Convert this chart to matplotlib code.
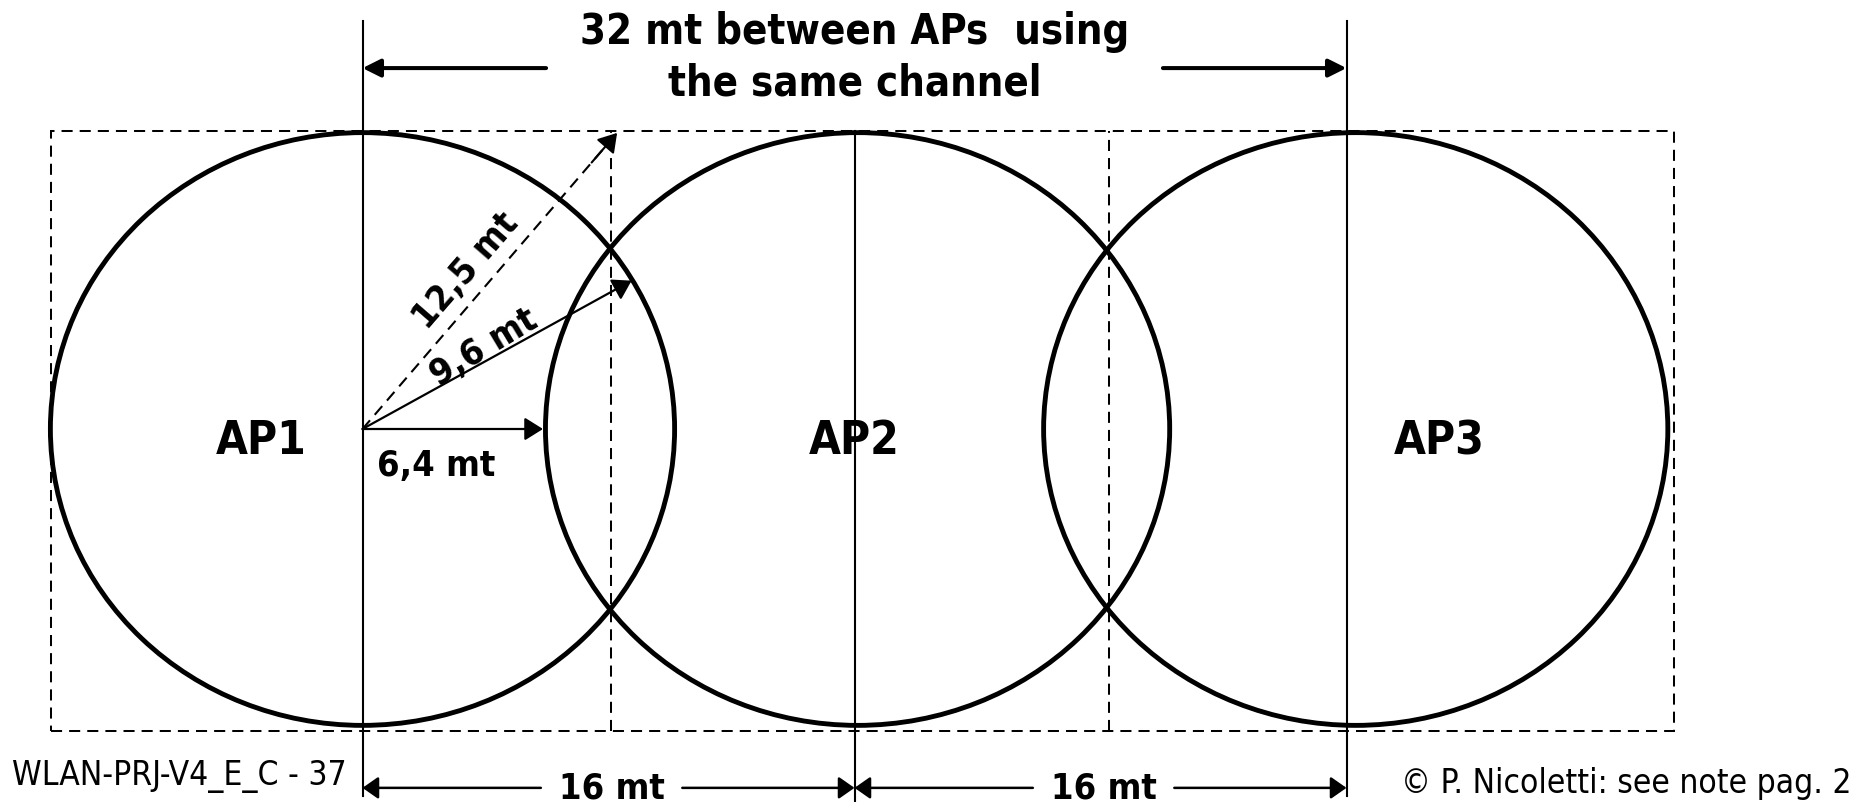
import matplotlib
matplotlib.use('Agg')
import matplotlib.pyplot as plt
from matplotlib.patches import Ellipse, Rectangle

# everything is in metres, AP1 at the origin
ap_names = ['AP1', 'AP2', 'AP3']
ap_x = [0.0, 16.0, 32.0]            # vertical reference lines
ap_label_x = [-3.3, 16.0, 35.0]
cell_x = [0.0, 16.1, 32.3]          # circle centres as drawn
cell_radius = 10.15
grid_x = [-10.13, 8.07, 24.28, 42.65]   # dashed cell boundaries
grid_y = [-10.34, 10.2]

radius_labels = ['6,4 mt', '9,6 mt', '12,5 mt']
radius_ends = [(5.87, 0.0), (8.75, 5.08), (8.28, 10.14)]
spacing_label = '16 mt'
reuse_label = ['32 mt between APs  using', 'the same channel']
footer_left = 'WLAN-PRJ-V4_E_C - 37'
footer_right = '© P. Nicoletti: see note pag. 2'

# %%
plt.rcParams['font.family'] = ['DejaVu Sans']
W, H = 1870, 803
x0_px, y0_px, sx, sy = 362.5, 430.0, 30.75, 29.2

fig = plt.figure(figsize=(W / 100, H / 100), dpi=100)
ax = fig.add_axes([0, 0, 1, 1])
ax.set_xlim(-x0_px / sx, (W - x0_px) / sx)
ax.set_ylim((y0_px - H) / sy, y0_px / sy)
ax.axis('off')

dash = (0, (5.5, 3.5))
bold = dict(fontweight='bold', fontstretch='condensed', color='black')


def arrow(start, end, lw, ms, hw=0.2, ls='-'):
    ax.annotate('', xy=end, xytext=start,
                arrowprops=dict(arrowstyle=f'-|>,head_length=0.4,head_width={hw}',
                                lw=lw, color='black', mutation_scale=ms,
                                shrinkA=0, shrinkB=0, linestyle=ls))


# dashed cell grid
ax.add_patch(Rectangle((grid_x[0], grid_y[0]), grid_x[-1] - grid_x[0], grid_y[1] - grid_y[0],
                       fill=False, lw=1.45, linestyle=dash, zorder=1))
for gx in grid_x[1:-1]:
    ax.plot([gx, gx], grid_y, color='black', lw=1.45, linestyle=dash, zorder=1)

# coverage circles
for cx in cell_x:
    ax.add_patch(Ellipse((cx, 0), 2 * cell_radius, 2 * cell_radius,
                         fill=False, lw=3.5, color='black', zorder=2))

# AP vertical lines
ax.plot([ap_x[0]] * 2, [13.97, -12.57], color='black', lw=1.5)
ax.plot([ap_x[1]] * 2, [10.2, -12.8], color='black', lw=1.5)
ax.plot([ap_x[2]] * 2, [13.97, -12.57], color='black', lw=1.5)

for name, lx in zip(ap_names, ap_label_x):
    ax.text(lx, -0.4, name, fontsize=33, ha='center', va='center', **bold)

# radius arrows
arrow((0, 0), radius_ends[0], 1.6, 28, 0.25)
arrow((0, 0), radius_ends[1], 1.6, 28, 0.25)
ex, ey = radius_ends[2]
ax.plot([0, ex * 0.96], [0, ey * 0.96], color='black', lw=1.5, linestyle=dash)
arrow((ex * 0.9, ey * 0.9), (ex, ey), 1.5, 28, 0.25)

ax.text(0.47, -1.25, radius_labels[0], fontsize=26, ha='left', va='center', **bold)
ax.text(3.95, 2.82, radius_labels[1], fontsize=26, ha='center', va='center',
        rotation=31, rotation_mode='anchor', **bold)
ax.text(3.38, 5.45, radius_labels[2], fontsize=26, ha='center', va='center',
        rotation=49, rotation_mode='anchor', **bold)

# reuse distance on top
ax.text(ap_x[1], 13.63, reuse_label[0], fontsize=30, ha='center', va='center', **bold)
ax.text(ap_x[1], 11.85, reuse_label[1], fontsize=30, ha='center', va='center', **bold)
arrow((5.97, 12.36), (ap_x[0], 12.36), 2.9, 27)
arrow((26.03, 12.36), (ap_x[2], 12.36), 2.9, 27)

# spacing between APs at the bottom
yb = -12.29
for a, b in zip(ap_x[:-1], ap_x[1:]):
    mid = (a + b) / 2
    ax.text(mid + 0.1, yb, spacing_label, fontsize=26, ha='center', va='center', **bold)
    arrow((mid - 2.2, yb), (a, yb), 1.8, 24, 0.28)
    arrow((mid + 2.4, yb), (b, yb), 1.8, 24, 0.28)

ax.text(-11.4, -11.88, footer_left, fontsize=24, ha='left', va='center', fontstretch='condensed')
ax.text(48.43, -12.12, footer_right, fontsize=24, ha='right', va='center', fontstretch='condensed')

fig.savefig('out.png', dpi=100, facecolor='white')
